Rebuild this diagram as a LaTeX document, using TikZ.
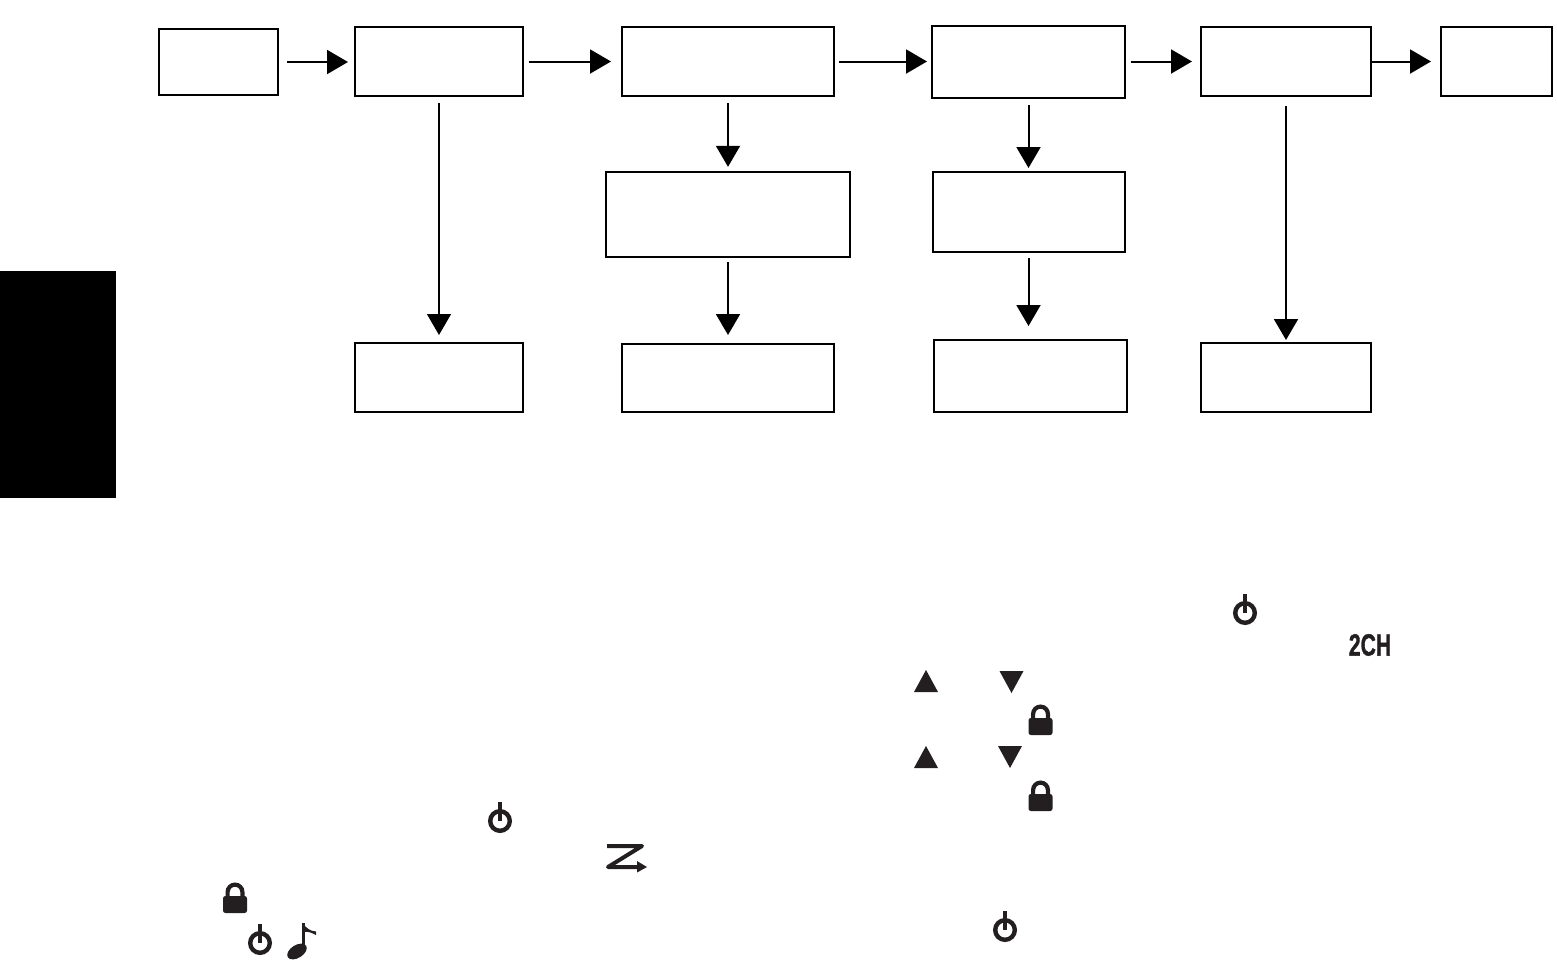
\documentclass[tikz,border=0pt]{standalone}
\usepackage{fontspec}
\newfontfamily\chanfont[UprightFont=* Bold, FakeBold=1.5]{Liberation Sans}
\usetikzlibrary{calc, positioning, arrows.meta}
\definecolor{icon}{HTML}{231F20}
\tikzset{
	box/.style={draw, line width=1pt, inner sep=0pt, outer sep=0pt},
	flow/.style={-{Triangle[length=10.5pt,width=12pt]}, line width=1pt},
	thinflow/.style={flow, line width=.65pt},
	powericon/.pic={
		\draw [icon, line width=2.2pt] (0,0) circle (4.9pt);
		\fill [icon] (-1pt,0) rectangle (1pt,9.5pt);
	},
	lockicon/.pic={
		\draw [icon, line width=2.1pt] (-3.7pt,8pt) -- (-3.7pt,10.5pt) arc (180:0:3.7pt) -- (3.7pt,8pt);
		\fill [icon, rounded corners=1.2pt] (-6pt,0) rectangle (6pt,8.5pt);
	},
	upicon/.pic={\fill [icon] (-6pt,0) -- (6pt,0) -- (0,11pt) -- cycle;},
	downicon/.pic={\fill [icon] (-6pt,0) -- (6pt,0) -- (0,-11pt) -- cycle;},
}
\begin{document}
\begin{tikzpicture}[x=.5pt,y=-.5pt]
	\useasboundingbox (0,0) rectangle (1557,959);
	\node (sidetab) [fill=black, inner sep=0pt, outer sep=0pt, minimum width=58pt, minimum height=113.5pt] at (58,384.5) {};
	\node (first) [box, minimum width=59.5pt, minimum height=33pt] at (218.5,62) {};
	\node (second) [box, minimum width=84pt, minimum height=34.5pt, right=38.5pt of first, yshift=.25pt] {};
	\node (third) [box, minimum width=106pt, minimum height=34.5pt, right=49.5pt of second] {};
	\node (fourth) [box, minimum width=96.5pt, minimum height=36pt, right=49pt of third, yshift=-.25pt] {};
	\node (fifth) [box, minimum width=85pt, minimum height=34.5pt, right=38pt of fourth, yshift=.25pt] {};
	\node (last) [box, minimum width=55.5pt, minimum height=34.5pt, right=35pt of fifth] {};
	\node (thirdmid) [box, minimum width=122pt, minimum height=42.5pt, below=38pt of third] {};
	\node (fourthmid) [box, minimum width=96pt, minimum height=40pt, below=37pt of fourth] {};
	\node (secondend) [box, minimum width=84pt, minimum height=34.5pt, below=123.5pt of second] {};
	\node (thirdend) [box, minimum width=106pt, minimum height=34pt, below=43.5pt of thirdmid] {};
	\node (fourthend) [box, minimum width=96.5pt, minimum height=36pt, below=44pt of fourthmid, xshift=.75pt] {};
	\node (fifthend) [box, minimum width=85pt, minimum height=34.5pt, below=123.5pt of fifth] {};

	\draw [flow, shorten <=4.5pt, shorten >=3.5pt] (first) -- (first -| second.west);
	\draw [flow, shorten <=3pt, shorten >=5.5pt] (second) -- (third);
	\draw [flow, shorten <=2.5pt, shorten >=2.5pt] (third) -- (third -| fourth.west);
	\draw [flow, shorten <=3pt, shorten >=4.5pt] (fifth -| fourth.east) -- (fifth);
	\draw [flow, shorten <=.5pt, shorten >=5pt] (fifth) -- (last);
	\draw [thinflow, shorten <=3.5pt, shorten >=4pt] (second) -- (secondend);
	\draw [flow, shorten <=3.5pt, shorten >=2.6pt] (third) -- (thirdmid);
	\draw [flow, shorten <=2.5pt, shorten >=4.5pt] (thirdmid) -- (thirdend);
	\draw [flow, shorten <=3.5pt, shorten >=2pt] (fourth) -- (fourthmid);
	\draw [flow, shorten <=3pt, shorten >=7pt] (fourthmid.south) -- (fourthmid.south |- fourthend.north);
	\draw [flow, shorten <=5pt, shorten >=1.5pt] (fifth) -- (fifthend);

	\pic at (1245,613) {powericon};
	\pic at (500,821) {powericon};
	\pic at (260,943) {powericon};
	\pic at (1005,930) {powericon};
	\pic at (235,913) {lockicon};
	\pic at (1040.5,735) {lockicon};
	\pic at (1040.5,811) {lockicon};
	\pic at (926,692) {upicon};
	\pic at (926,768) {upicon};
	\pic at (1011.5,671) {downicon};
	\pic at (1010,746) {downicon};
	\draw [icon, line width=2pt, line join=round] (607,846) -- (642,846) -- (608,867) -- (638,867);
	\fill [icon] (637,861) -- (647,867) -- (637,872.5) -- cycle;
	\fill [icon] (297,951.5) ellipse [x radius=5.4pt, y radius=3.2pt, rotate=32];
	\draw [icon, line width=1.5pt] (303.5,950) -- (303.5,923);
	\fill [icon] (302.7,923) .. controls (306,928) and (310,931) .. (316,931.5) -- (316,935) .. controls (312,933) and (308,931) .. (304,932) -- cycle;
	\node (chanmark) [icon, inner sep=0pt, font=\chanfont\fontsize{15.3pt}{16pt}\selectfont, xscale=.69] at (1370,645) {2CH};
\end{tikzpicture}
\end{document}
